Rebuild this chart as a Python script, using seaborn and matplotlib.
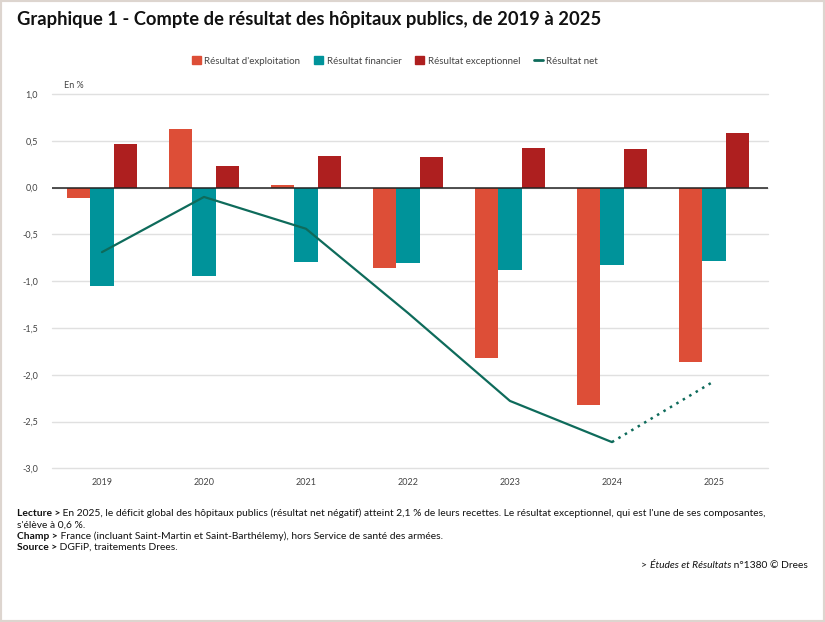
import numpy as np
import pandas as pd
import matplotlib
matplotlib.use('Agg')
import matplotlib.pyplot as plt
import seaborn as sns
from matplotlib.patches import Patch, Rectangle
from matplotlib.lines import Line2D
from matplotlib.ticker import FuncFormatter

# Data (in % of revenues)
annees = ['2019', '2020', '2021', '2022', '2023', '2024', '2025']
exploitation = [-0.11, 0.63, 0.03, -0.86, -1.82, -2.32, -1.86]
financier = [-1.05, -0.95, -0.80, -0.81, -0.88, -0.83, -0.78]
exceptionnel = [0.47, 0.23, 0.34, 0.33, 0.42, 0.41, 0.58]
net = [-0.69, -0.10, -0.44, -1.34, -2.28, -2.72, -2.07]

composantes = ["Résultat d'exploitation", 'Résultat financier', 'Résultat exceptionnel']
couleurs = ['#DD4E37', '#00939A', '#AE1F1F']
couleur_net = '#0E6B5B'


def visualize():
    sns.set_theme(style='white')
    plt.rcParams['font.family'] = ['Lato', 'DejaVu Sans']

    df = pd.DataFrame({'Année': annees,
                       composantes[0]: exploitation,
                       composantes[1]: financier,
                       composantes[2]: exceptionnel})
    df_long = df.melt(id_vars='Année', var_name='Composante', value_name='Valeur')

    fig = plt.figure(figsize=(8.25, 6.22), dpi=100)
    ax = fig.add_axes([52 / 825, 1 - 468.3 / 622, (768 - 52) / 825, (468.3 - 94) / 622])

    # Gridlines
    yticks = np.arange(-3.0, 1.01, 0.5)
    for v in yticks:
        ax.axhline(v, color='#e0e0e0', lw=1, zorder=0, clip_on=False)

    sns.barplot(data=df_long, x='Année', y='Valeur', hue='Composante',
                hue_order=composantes, palette=dict(zip(composantes, couleurs)),
                width=0.68, errorbar=None, linewidth=0, saturation=1,
                zorder=2, ax=ax)
    ax.axhline(0, color='#222222', lw=1.1, zorder=3)

    # Net result line: solid up to 2024, dotted to 2025
    pos = np.arange(len(annees))
    ax.plot(pos[:-1], net[:-1], color=couleur_net, lw=1.6, zorder=4)
    ax.plot(pos[-2:], net[-2:], color=couleur_net, lw=1.8, ls=(0, (1, 2)), zorder=4)

    ax.set_xlim(-0.49, 6.53)
    ax.set_ylim(-3.0, 1.0)
    ax.set_yticks(yticks)
    ax.yaxis.set_major_formatter(FuncFormatter(lambda v, p: f'{v:.1f}'.replace('.', ',')))
    ax.tick_params(axis='y', length=0, pad=10, labelsize=6.5, labelcolor='#444444')
    ax.tick_params(axis='x', length=0, pad=7, labelsize=6.5, labelcolor='#444444')
    ax.set_xlabel('')
    ax.set_ylabel('')
    for s in ax.spines.values():
        s.set_visible(False)
    ax.get_legend().remove()

    # Legend
    handles = [Patch(color=c) for c in couleurs]
    handles.append(Line2D([0], [0], color=couleur_net, lw=2))
    labels = composantes + ['Résultat net']
    fig.legend(handles, labels, loc='center', bbox_to_anchor=(395 / 825, 1 - 61 / 622),
               ncol=4, frameon=False, fontsize=7, handlelength=0.9, handleheight=0.9,
               handletextpad=0.4, columnspacing=1.4, labelcolor='#444444')

    # Title and unit
    fig.text(17 / 825, 1 - 20 / 622,
             'Graphique 1 - Compte de résultat des hôpitaux publics, de 2019 à 2025',
             fontsize=13.2, fontweight='bold', va='center', ha='left', color='#111111')
    fig.text(64 / 825, 1 - 85 / 622, 'En %', fontsize=6.5, color='#444444', va='center')

    # Footnotes
    fs = 7.4
    notes = [
        ('Lecture >', " En 2025, le déficit global des hôpitaux publics (résultat net négatif) atteint "
                      "2,1 % de leurs recettes. Le résultat exceptionnel, qui est l'une de ses composantes,"),
        ('', "s'élève à 0,6 %."),
        ('Champ >', ' France (incluant Saint-Martin et Saint-Barthélemy), hors Service de santé des armées.'),
        ('Source >', ' DGFiP, traitements Drees.'),
    ]
    ys = [516, 528, 539, 550]
    for (gras, texte), y in zip(notes, ys):
        if not gras:
            fig.text(17 / 825, 1 - y / 622, texte, fontsize=fs, va='baseline',
                     ha='left', color='#111111')
            continue
        t = fig.text(17 / 825, 1 - y / 622, gras, fontsize=fs, fontweight='bold',
                     va='baseline', ha='left', color='#111111')
        ax.annotate(texte, xy=(1, 0), xycoords=t, va='bottom', ha='left',
                    fontsize=fs, color='#111111', annotation_clip=False)

    t = fig.text(808 / 825, 1 - 568 / 622, ' n°1380 © Drees', fontsize=fs,
                 va='baseline', ha='right', color='#111111')
    t2 = ax.annotate('Études et Résultats', xy=(0, 0), xycoords=t, va='bottom', ha='right',
                     fontsize=fs, style='italic', color='#111111', annotation_clip=False)
    ax.annotate('> ', xy=(0, 0), xycoords=t2, va='bottom', ha='right',
                fontsize=fs, color='#111111', annotation_clip=False)

    # Frame around the figure
    fig.patches.append(Rectangle((0, 0), 1, 1, transform=fig.transFigure, fill=False,
                                 lw=3, edgecolor='#DDD5CF', zorder=10))

    fig.savefig('out.png', dpi=100)


if __name__ == '__main__':
    visualize()
